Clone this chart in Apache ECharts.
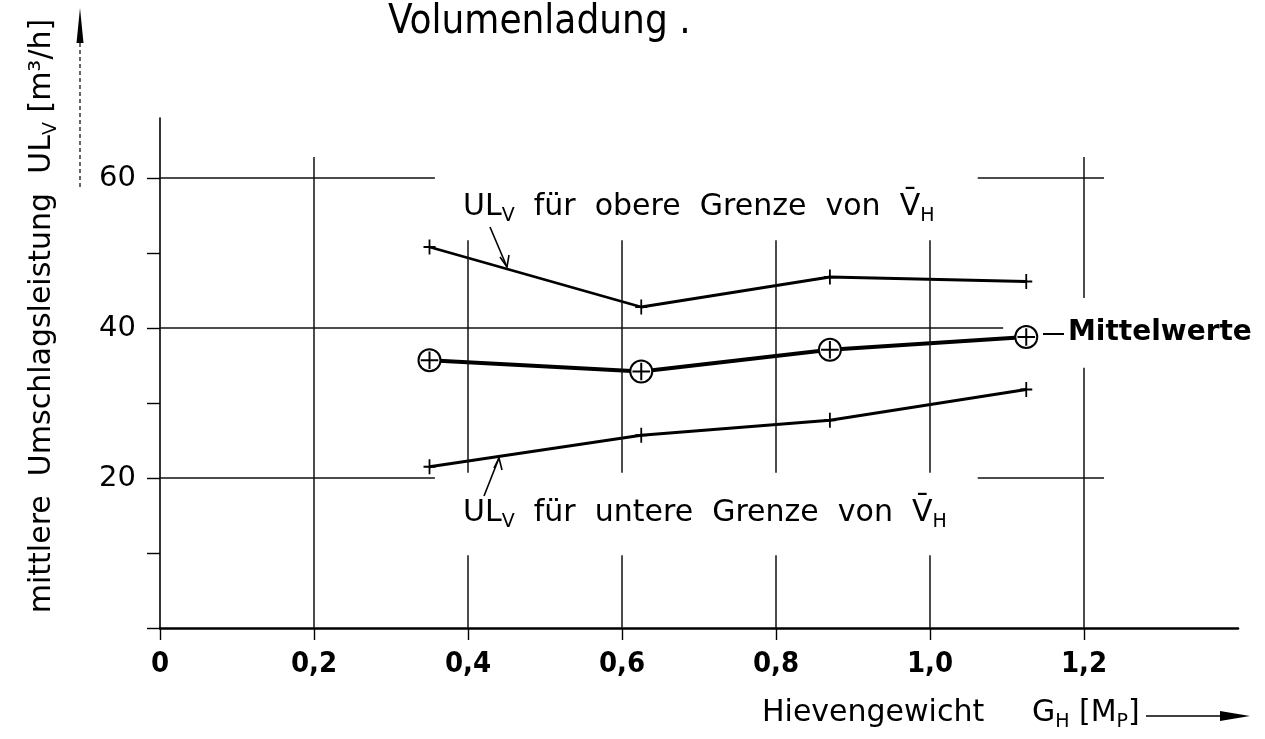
<!DOCTYPE html>
<html>
<head>
<meta charset="utf-8">
<title>Volumenladung</title>
<script src="https://cdn.jsdelivr.net/npm/echarts@6/dist/echarts.min.js"></script>
<style>
  html, body { margin: 0; padding: 0; background: #fff; }
  #chart { width: 1265px; height: 739px; }
</style>
</head>
<body>
<div id="chart"></div>
<script>
  // Hievengewicht G_H [Mp] der Messpunkte
  var gewicht = [0.35, 0.625, 0.87, 1.125];
  // mittlere Umschlagsleistung UL_V [m3/h]
  var obereGrenze = [50.8, 42.8, 46.8, 46.2];
  var mittelwerte = [35.7, 34.2, 37.1, 38.8];
  var untereGrenze = [21.5, 25.7, 27.7, 31.8];

  var xTicks = [0, 0.2, 0.4, 0.6, 0.8, 1.0, 1.2];
  var yTicks = [0, 10, 20, 30, 40, 50, 60];
  var yLabels = [20, 40, 60];

  function pairs(ys) {
    return gewicht.map(function (x, i) { return [x, ys[i]]; });
  }

  // Raster: freie Flaechen um die Beschriftungen (in Achsenwerten)
  var blanks = [
    {x: [0.357, 1.062], y: [51.7, 80]},
    {x: [0.357, 1.062], y: [9.7, 20.7]},
    {x: [1.095, 1.6], y: [34.7, 44]}
  ];
  function cut(lo, hi, holes) {
    holes.sort(function (a, b) { return a[0] - b[0]; });
    var out = [], s = lo;
    holes.forEach(function (h) {
      if (h[0] > s) out.push([s, Math.min(h[0], hi)]);
      s = Math.max(s, h[1]);
    });
    if (s < hi) out.push([s, hi]);
    return out;
  }
  var rasterLines = [];
  xTicks.slice(1).forEach(function (x) {
    var holes = blanks.filter(function (b) { return x >= b.x[0] && x <= b.x[1]; })
      .map(function (b) { return b.y; });
    cut(0, 62.8, holes).forEach(function (sg) {
      rasterLines.push([{coord: [x, sg[0]]}, {coord: [x, sg[1]]}]);
    });
  });
  yLabels.forEach(function (y) {
    var holes = blanks.filter(function (b) { return y >= b.y[0] && y <= b.y[1]; })
      .map(function (b) { return b.x; });
    cut(0, 1.226, holes).forEach(function (sg) {
      rasterLines.push([{coord: [sg[0], y]}, {coord: [sg[1], y]}]);
    });
  });

  var FONT = "'DejaVu Sans', sans-serif";
  var NARROW = "'DejaVu Sans Condensed', 'DejaVu Sans', sans-serif";
  var plus = 'path://M0,7L12,7M6,0L6,14';
  var circlePlus = 'path://M0,10A10,10 0 1,1 20,10A10,10 0 1,1 0,10ZM10,2L10,18M2,10L18,10';

  var subStyle = {fontSize: 19, fontFamily: FONT, lineHeight: 20, verticalAlign: 'bottom', fill: '#000'};
  var mainStyle = {fontSize: 30, fontFamily: FONT, lineHeight: 38, fill: '#000'};

  var option = {
    backgroundColor: '#fff',
    animation: false,
    grid: {left: 160, top: 118, width: 1078, height: 510},
    xAxis: {
      type: 'value',
      min: 0,
      max: 1.4,
      interval: 0.2,
      splitLine: {show: false},
      axisLine: {lineStyle: {color: '#000', width: 2.6}},
      axisTick: {customValues: xTicks, length: 12, lineStyle: {color: '#000', width: 1.4}},
      axisLabel: {
        customValues: xTicks,
        margin: 22,
        color: '#000',
        fontSize: 29,
        fontWeight: 'bold',
        fontFamily: NARROW,
        formatter: function (v) { return v === 0 ? '0' : v.toFixed(1).replace('.', ','); }
      }
    },
    yAxis: {
      type: 'value',
      min: 0,
      max: 68,
      interval: 10,
      splitLine: {show: false},
      axisLine: {lineStyle: {color: '#000', width: 1.6}},
      axisTick: {customValues: yTicks, length: 13, lineStyle: {color: '#000', width: 1.4}},
      axisLabel: {
        customValues: yLabels,
        margin: 24,
        color: '#000',
        fontSize: 29,
        fontFamily: FONT
      }
    },
    series: [
      {
        name: 'Raster',
        type: 'line',
        data: [],
        silent: true,
        markLine: {
          silent: true,
          symbol: 'none',
          animation: false,
          label: {show: false},
          emphasis: {disabled: true},
          lineStyle: {color: '#111', width: 1.5, type: 'solid'},
          data: rasterLines
        }
      },
      {
        name: 'obere Grenze',
        type: 'line',
        data: pairs(obereGrenze),
        symbol: plus,
        symbolSize: [12, 15],
        lineStyle: {color: '#000', width: 2.8},
        itemStyle: {color: '#000', borderColor: '#000', borderWidth: 2},
        emphasis: {disabled: true}
      },
      {
        name: 'Mittelwerte',
        type: 'line',
        data: pairs(mittelwerte),
        symbol: circlePlus,
        symbolSize: 22,
        lineStyle: {color: '#000', width: 4},
        itemStyle: {color: '#fff', borderColor: '#000', borderWidth: 2},
        emphasis: {disabled: true}
      },
      {
        name: 'untere Grenze',
        type: 'line',
        data: pairs(untereGrenze),
        symbol: plus,
        symbolSize: [12, 15],
        lineStyle: {color: '#000', width: 2.8},
        itemStyle: {color: '#000', borderColor: '#000', borderWidth: 2},
        emphasis: {disabled: true}
      }
    ],
    graphic: [
      {
        type: 'text', x: 388, y: 23, z: 10,
        style: {text: 'Volumenladung .', fontSize: 40, fontFamily: NARROW,
          fill: '#000', align: 'left', verticalAlign: 'middle'}
      },
      {
        type: 'text', x: 463, y: 207, z: 10,
        style: {
          text: '{m|UL}{s|V}{m|  für  obere  Grenze  von  V\u0304}{s|H}',
          align: 'left', verticalAlign: 'middle',
          rich: {m: mainStyle, s: subStyle}
        }
      },
      {
        type: 'text', x: 463, y: 513, z: 10,
        style: {
          text: '{m|UL}{s|V}{m|  für  untere  Grenze  von  V\u0304}{s|H}',
          align: 'left', verticalAlign: 'middle',
          rich: {m: mainStyle, s: subStyle}
        }
      },
      {
        type: 'text', x: 1068, y: 333, z: 10,
        style: {text: 'Mittelwerte', fontSize: 28, fontWeight: 'bold', fontFamily: FONT,
          fill: '#000', align: 'left', verticalAlign: 'middle'}
      },
      {type: 'line', z: 10, shape: {x1: 1043, y1: 334, x2: 1064, y2: 334}, style: {stroke: '#000', lineWidth: 2}},
      // Pfeile zu den Grenzkurven
      {type: 'line', z: 10, shape: {x1: 490, y1: 227, x2: 507, y2: 267}, style: {stroke: '#000', lineWidth: 1.6}},
      {type: 'polyline', z: 10, shape: {points: [[500, 257], [507, 267], [509, 255]]}, style: {stroke: '#000', lineWidth: 1.6, fill: null}},
      {type: 'line', z: 10, shape: {x1: 484, y1: 496, x2: 499, y2: 458}, style: {stroke: '#000', lineWidth: 1.6}},
      {type: 'polyline', z: 10, shape: {points: [[494, 468], [499, 458], [502, 470]]}, style: {stroke: '#000', lineWidth: 1.6, fill: null}},
      // Achsentitel
      {
        type: 'text', x: 42, y: 316, rotation: Math.PI / 2, z: 10,
        style: {
          text: '{m|mittlere  Umschlagsleistung  UL}{s|V}{m| [m³/h]}',
          align: 'center', verticalAlign: 'middle',
          rich: {m: {fontSize: 30, fontFamily: FONT, lineHeight: 38, fill: '#000'}, s: subStyle}
        }
      },
      {type: 'line', z: 10, shape: {x1: 80, y1: 187, x2: 80, y2: 30}, style: {stroke: '#000', lineWidth: 1.2, lineDash: [4, 3]}},
      {type: 'polygon', z: 10, shape: {points: [[80, 8], [76.5, 43], [83.5, 43]]}, style: {fill: '#000'}},
      {
        type: 'text', x: 762, y: 713, z: 10,
        style: {
          text: '{m|Hievengewicht     G}{s|H}{m| [M}{s|P}{m|]}',
          align: 'left', verticalAlign: 'middle',
          rich: {m: {fontSize: 30, fontFamily: FONT, lineHeight: 38, fill: '#000'}, s: subStyle}
        }
      },
      {type: 'line', z: 10, shape: {x1: 1146, y1: 716, x2: 1226, y2: 716}, style: {stroke: '#000', lineWidth: 1.6}},
      {type: 'polygon', z: 10, shape: {points: [[1250, 716], [1220, 711], [1220, 721]]}, style: {fill: '#000'}}
    ]
  };

  var chart = echarts.init(document.getElementById('chart'));
  chart.setOption(option);
</script>
</body>
</html>
